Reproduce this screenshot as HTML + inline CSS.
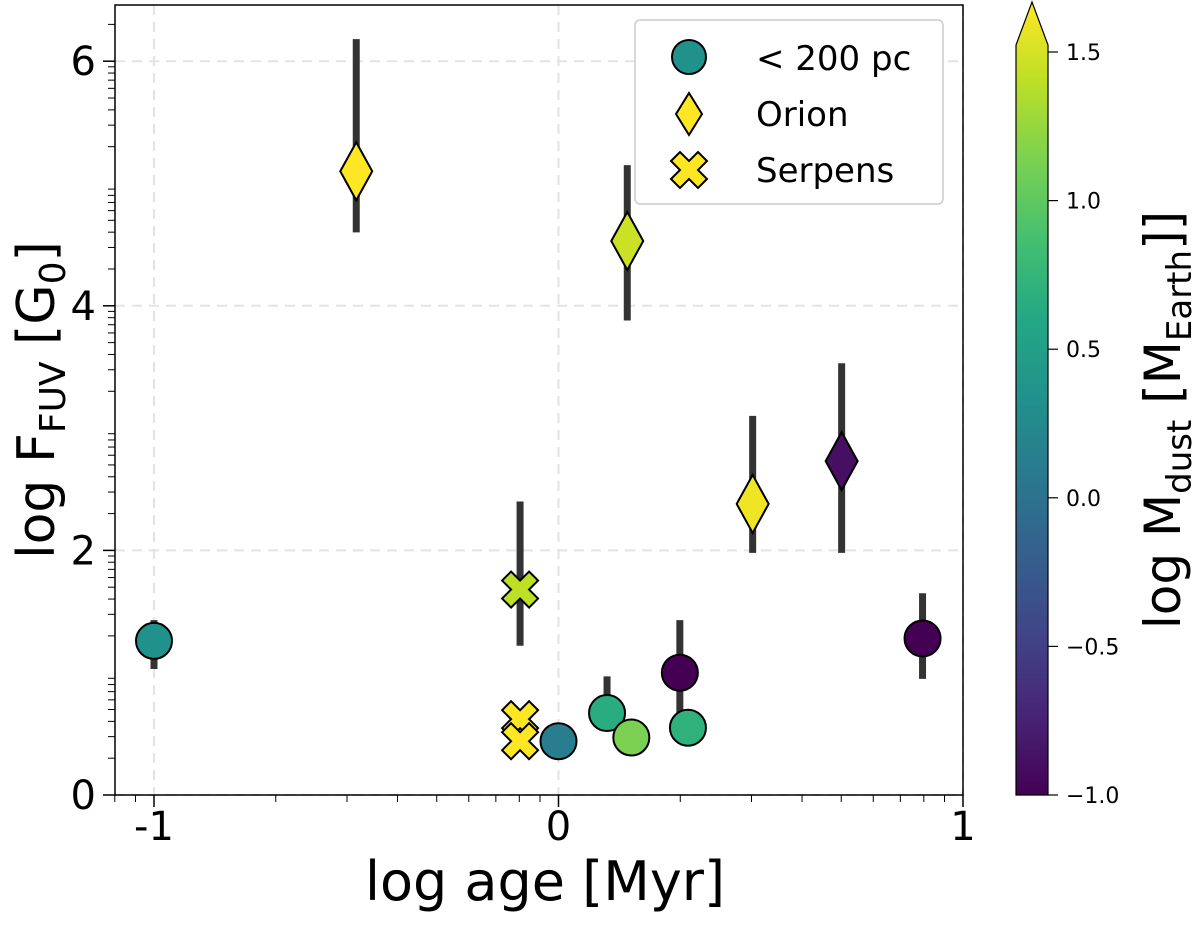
<!DOCTYPE html>
<html><head><meta charset="utf-8"><style>
body{margin:0;background:#fff;}
svg text{font-family:"DejaVu Sans","Liberation Sans",sans-serif;fill:#000;}
</style></head><body>
<svg id="chart" width="1200" height="925" viewBox="0 0 1200 925" xmlns="http://www.w3.org/2000/svg">
<defs>
<linearGradient id="vir" x1="0" y1="1" x2="0" y2="0">
<stop offset="0" stop-color="#440154"/><stop offset="0.1" stop-color="#482475"/><stop offset="0.2" stop-color="#414487"/><stop offset="0.3" stop-color="#355f8d"/><stop offset="0.4" stop-color="#2a788e"/><stop offset="0.5" stop-color="#21918c"/><stop offset="0.6" stop-color="#22a884"/><stop offset="0.7" stop-color="#44bf70"/><stop offset="0.8" stop-color="#7ad151"/><stop offset="0.9" stop-color="#bddf26"/><stop offset="1" stop-color="#fde725"/>
</linearGradient>
</defs>
<g id="grid"></g>
<g id="errs"></g>
<g id="marks"></g>
<rect x="115" y="5" width="848" height="790" fill="none" stroke="#000" stroke-width="1.5"/>
<g id="axes"></g>
<text x="545" y="900" font-size="54" text-anchor="middle">log age [Myr]</text>
<text transform="translate(54,400) rotate(-90)" font-size="52" text-anchor="middle">log F<tspan font-size="36" dy="11">FUV</tspan><tspan dy="-11"> [G</tspan><tspan font-size="36" dy="11">0</tspan><tspan dy="-11">]</tspan></text>
<g>
<rect x="635" y="20" width="308" height="184" rx="5" fill="#fff" stroke="#ccc" stroke-width="1.5"/>
<circle cx="689" cy="57" r="17" fill="#21918c" stroke="#000" stroke-width="2"/>
<text x="756" y="70" font-size="34">&lt; 200 pc</text>
<path d="M689,93 L702,114 L689,135 L676,114 Z" fill="#fde725" stroke="#000" stroke-width="2"/>
<text x="756" y="126" font-size="34">Orion</text>
<path id="legx" fill="#fde725" stroke="#000" stroke-width="2"/>
<text x="756" y="182" font-size="34">Serpens</text>
</g>
<g>
<path d="M1016,795 L1016,45 L1032,2 L1048,45 L1048,795 Z" fill="url(#vir)" stroke="#000" stroke-width="1.2"/>
<g id="cbt"></g>
<text transform="translate(1180,420) rotate(-90)" font-size="50" text-anchor="middle">log M<tspan font-size="34" dy="11">dust</tspan><tspan dy="-11"> [M</tspan><tspan font-size="34" dy="11">Earth</tspan><tspan dy="-11">]]</tspan></text>
</g>
</svg>
<script>
const nearX=[-1,0,0.12,0.18,0.30,0.32,0.90];
const nearY=[1.26,0.44,0.67,0.47,1.00,0.55,1.28];
const nearLo=[1.03,0.44,0.67,0.47,0.55,0.55,0.95];
const nearHi=[1.43,0.44,0.97,0.47,1.43,0.55,1.65];
const nearC=[0.25,0.05,0.55,1.0,-1.0,0.6,-1.0];
const orX=[-0.5,0.17,0.48,0.70];
const orY=[5.1,4.53,2.38,2.73];
const orLo=[4.6,3.88,1.98,1.98];
const orHi=[6.18,5.15,3.1,3.53];
const orC=[1.5,1.3,1.45,-0.9];
const seX=[-0.095,-0.095,-0.095];
const seY=[1.68,0.62,0.44];
const seLo=[1.22,0.62,0.44];
const seHi=[2.4,0.62,0.44];
const seC=[1.25,1.5,1.5];
const xTicks=[-1,0,1];
const yTicks=[0,2,4,6];
const cbTicks=[-1.0,-0.5,0.0,0.5,1.0,1.5];

const NS='http://www.w3.org/2000/svg';
const X=v=>154+(v+1)*404.5;
const Y=v=>795-v*122.3;
const CB=v=>795-(v+1)/2.5*743;
const stops=['#440154','#482475','#414487','#355f8d','#2a788e','#21918c','#22a884','#44bf70','#7ad151','#bddf26','#fde725'];
function hex(h){return [1,3,5].map(i=>parseInt(h.substr(i,2),16));}
function vir(v){let t=Math.max(0,Math.min(1,(v+1)/2.5))*10;let i=Math.min(9,Math.floor(t)),f=t-i;const a=hex(stops[i]),b=hex(stops[i+1]);return 'rgb('+a.map((c,k)=>Math.round(c+(b[k]-c)*f)).join(',')+')';}
function mk(tag,attrs,parent){const e=document.createElementNS(NS,tag);for(const k in attrs)e.setAttribute(k,attrs[k]);parent.appendChild(e);return e;}
const grid=document.getElementById('grid'),axes=document.getElementById('axes'),errs=document.getElementById('errs'),marks=document.getElementById('marks');
xTicks.forEach(t=>{const l=mk('line',{x1:X(t),x2:X(t),y1:5,y2:795,stroke:'#e3e3e3','stroke-width':2,'stroke-dasharray':'10,7'},grid);


mk('line',{x1:X(t),x2:X(t),y1:795,y2:807,stroke:'#000','stroke-width':1.5},axes);
const tx=mk('text',{x:X(t),y:840,'font-size':40,'text-anchor':'middle'},axes);tx.textContent=t;

});
yTicks.forEach(t=>{const l=mk('line',{x1:115,x2:963,y1:Y(t),y2:Y(t),stroke:'#e3e3e3','stroke-width':2,'stroke-dasharray':'10,7'},grid);


mk('line',{x1:103,x2:115,y1:Y(t),y2:Y(t),stroke:'#000','stroke-width':1.5},axes);
const tx=mk('text',{x:96,y:Y(t)+14,'font-size':40,'text-anchor':'end'},axes);tx.textContent=t;

});
for(let e=-2;e<=6;e++)for(let k=2;k<=9;k++){const v=Math.log10(k)+e;
if(v>-1.1&&v<1.05)mk('line',{x1:X(v),x2:X(v),y1:795,y2:802,stroke:'#000','stroke-width':1},axes);
if(v>0&&v<6.4)mk('line',{x1:108,x2:115,y1:Y(v),y2:Y(v),stroke:'#000','stroke-width':1},axes);}
function xpath(cx,cy,s){const a=s*0.5,b=s;return `M${cx-b},${cy-b+a} L${cx-b+a},${cy-b} L${cx},${cy-a} L${cx+b-a},${cy-b} L${cx+b},${cy-b+a} L${cx+a},${cy} L${cx+b},${cy+b-a} L${cx+b-a},${cy+b} L${cx},${cy+a} L${cx-b+a},${cy+b} L${cx-b},${cy+b-a} L${cx-a},${cy} Z`;}
document.getElementById('legx').setAttribute('d',xpath(689,170,18));
function err(x,lo,hi){if(hi>lo){const l=mk('line',{x1:X(x),x2:X(x),y1:Y(lo),y2:Y(hi),stroke:'#333','stroke-width':7},errs);

}}
nearX.forEach((x,i)=>{err(x,nearLo[i],nearHi[i]);const c=mk('circle',{cx:X(x),cy:Y(nearY[i]),r:18,fill:vir(nearC[i]),stroke:'#000','stroke-width':2},marks);

});
orX.forEach((x,i)=>{err(x,orLo[i],orHi[i]);const cx=X(x),cy=Y(orY[i]);const d=mk('path',{d:`M${cx},${cy-29} L${cx+16},${cy} L${cx},${cy+29} L${cx-16},${cy} Z`,fill:vir(orC[i]),stroke:'#000','stroke-width':2},marks);

});
seX.forEach((x,i)=>{err(x,seLo[i],seHi[i]);const p=mk('path',{d:xpath(X(x),Y(seY[i]),18),fill:vir(seC[i]),stroke:'#000','stroke-width':2},marks);

});
const cbt=document.getElementById('cbt');
cbTicks.forEach(t=>{mk('line',{x1:1048,x2:1058,y1:CB(t),y2:CB(t),stroke:'#000','stroke-width':1.2},cbt);
const tx=mk('text',{x:1066,y:CB(t)+8,'font-size':22},cbt);tx.textContent=(t<0?'\u2212':'')+Math.abs(t).toFixed(1);

});
</script>
</body></html>
